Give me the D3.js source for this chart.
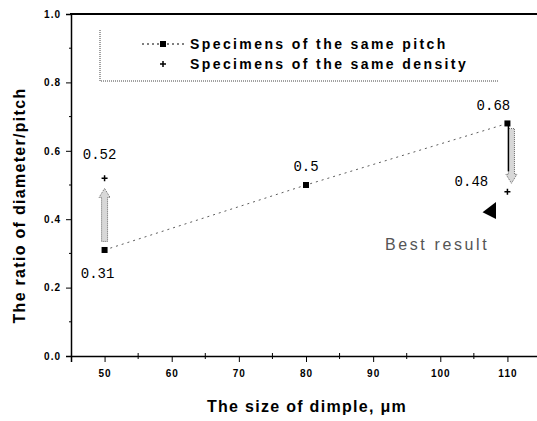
<!DOCTYPE html>
<html>
<head>
<meta charset="utf-8">
<script src="https://cdn.jsdelivr.net/npm/d3@7"></script>
<style>
  body { margin: 0; background: #fff; }
  text { font-family: "Liberation Sans", Arial, sans-serif; }
  .tick-label { font-size: 10px; font-weight: bold; letter-spacing: 1px; }
  .title { font-size: 16px; font-weight: bold; letter-spacing: 1.3px; }
  .legend-text { font-size: 14px; font-weight: bold; letter-spacing: 2.4px; }
  .value-label { font-family: "Liberation Mono", monospace; font-size: 14px; }
</style>
</head>
<body>
<div id="chart"></div>
<script>
// Data
const pitchSizes = [50, 80, 110];
const pitchRatios = [0.31, 0.5, 0.68];
const densitySizes = [50, 110];
const densityRatios = [0.52, 0.48];
const xTicks = [50, 60, 70, 80, 90, 100, 110];
const yTicks = [0.0, 0.2, 0.4, 0.6, 0.8, 1.0];
const arrowX = [50, 110.6];
const arrowFrom = [0.335, 0.665];
const arrowTo = [0.49, 0.505];

const width = 537;
const height = 421;

const svg = d3.select("#chart")
  .append("svg")
    .attr("width", width)
    .attr("height", height);

// Scales
const xScale = d3.scaleLinear()
  .domain([45, 115])
  .range([71, 541]);

const yScale = d3.scaleLinear()
  .domain([0, 1])
  .range([356, 14]);

// Frame (top line)
svg.append("line")
  .attr("x1", 70).attr("x2", width)
  .attr("y1", yScale(1)).attr("y2", yScale(1))
  .attr("stroke", "#000")
  .attr("stroke-width", 2);

// Left axis
const leftAxis = d3.axisLeft(yScale)
  .tickValues(yTicks)
  .tickFormat(d3.format(".1f"))
  .tickSize(5)
  .tickPadding(5);
const yAxis = svg.append("g")
  .attr("transform", `translate(${xScale(45)}, 0)`)
  .call(leftAxis);
yAxis.selectAll("text").attr("class", "tick-label");
yAxis.select(".domain").attr("stroke-width", 1.5);

// minor y ticks
svg.append("g")
  .selectAll("line")
  .data(d3.range(0.1, 1, 0.2))
  .join("line")
    .attr("x1", xScale(45)).attr("x2", xScale(45) - 2)
    .attr("y1", d => yScale(d)).attr("y2", d => yScale(d))
    .attr("stroke", "#000");

// Bottom axis
const bottomAxis = d3.axisBottom(xScale)
  .tickValues(xTicks)
  .tickSize(6)
  .tickPadding(8);
const xAxis = svg.append("g")
  .attr("transform", `translate(0, ${yScale(0)})`)
  .call(bottomAxis);
xAxis.selectAll("text").attr("class", "tick-label");
xAxis.select(".domain").attr("stroke-width", 1.5);

// minor x ticks
svg.append("g")
  .selectAll("line")
  .data([55, 65, 75, 85, 95, 105])
  .join("line")
    .attr("x1", d => xScale(d)).attr("x2", d => xScale(d))
    .attr("y1", yScale(0) - 3).attr("y2", yScale(0) + 3)
    .attr("stroke", "#000");

// Axis titles
svg.append("text")
  .attr("class", "title")
  .attr("transform", `translate(25, ${yScale(0.44)}) rotate(-90)`)
  .attr("text-anchor", "middle")
  .text("The ratio of diameter/pitch");

svg.append("text")
  .attr("class", "title")
  .attr("x", 307)
  .attr("y", 412)
  .attr("text-anchor", "middle")
  .text("The size of dimple, \u03bcm");

// Legend box (dotted left and bottom borders)
svg.append("path")
  .attr("d", `M100,30 V81 H498`)
  .attr("fill", "none")
  .attr("stroke", "#444")
  .attr("stroke-dasharray", "1,1");

const legend = svg.append("g");
legend.append("line")
  .attr("x1", 142).attr("x2", 184)
  .attr("y1", 44).attr("y2", 44)
  .attr("stroke", "#000")
  .attr("stroke-dasharray", "2,3");
legend.append("rect")
  .attr("x", 160).attr("y", 41)
  .attr("width", 6).attr("height", 6);
legend.append("path")
  .attr("d", "M160,64 h6 M163,61 v6")
  .attr("stroke", "#000")
  .attr("stroke-width", 1.5);
legend.append("text")
  .attr("class", "legend-text")
  .attr("x", 190).attr("y", 49)
  .text("Specimens of the same pitch");
legend.append("text")
  .attr("class", "legend-text")
  .attr("x", 190).attr("y", 69)
  .text("Specimens of the same density");

// Pitch line
const pitchData = pitchSizes.map((s, i) => ({size: s, ratio: pitchRatios[i]}));
const densityData = densitySizes.map((s, i) => ({size: s, ratio: densityRatios[i]}));

const lineGenerator = d3.line()
  .x(d => xScale(d.size))
  .y(d => yScale(d.ratio));

svg.append("path")
  .attr("d", lineGenerator(pitchData))
  .attr("fill", "none")
  .attr("stroke", "#333")
  .attr("stroke-width", 0.8)
  .attr("stroke-dasharray", "2,4");

// Hollow arrows
const arrowData = arrowX.map((x, i) => ({x: x, from: arrowFrom[i], to: arrowTo[i]}));
svg.append("g")
  .selectAll("path")
  .data(arrowData)
  .join("path")
    .attr("d", d => {
      const cx = xScale(d.x);
      const y0 = yScale(d.from);
      const y1 = yScale(d.to);
      const dir = y1 < y0 ? 1 : -1;
      const head = y1 + dir * 9;
      return `M${cx - 3},${y0} V${head} H${cx - 5.5} L${cx},${y1} L${cx + 5.5},${head} H${cx + 3} V${y0} Z`;
    })
    .attr("fill", "#d8d8d8")
    .attr("stroke", "#666")
    .attr("stroke-dasharray", "1,1");

// solid edge beside the right arrow
svg.append("line")
  .attr("x1", xScale(110) + 1).attr("x2", xScale(110) + 1)
  .attr("y1", yScale(0.68)).attr("y2", yScale(0.54))
  .attr("stroke", "#000")
  .attr("stroke-width", 1.5);

// Markers
svg.append("g")
  .selectAll("rect")
  .data(pitchData)
  .join("rect")
    .attr("x", d => xScale(d.size) - 3)
    .attr("y", d => yScale(d.ratio) - 3)
    .attr("width", 6)
    .attr("height", 6)
    .attr("fill", "#000");

svg.append("g")
  .selectAll("path")
  .data(densityData)
  .join("path")
    .attr("d", d => {
      const cx = xScale(d.size), cy = yScale(d.ratio);
      return `M${cx - 3},${cy} h6 M${cx},${cy - 3} v6`;
    })
    .attr("stroke", "#000")
    .attr("stroke-width", 1.5);

// Value labels
const labelDx = [-7, 0, -14];
const labelDy = [28, -14, -13];
svg.append("g")
  .selectAll("text")
  .data(pitchData)
  .join("text")
    .attr("class", "value-label")
    .attr("x", (d, i) => xScale(d.size) + labelDx[i])
    .attr("y", (d, i) => yScale(d.ratio) + labelDy[i])
    .attr("text-anchor", "middle")
    .text(d => d.ratio);

const densityDx = [-5, -36];
const densityDy = [-19, -6];
svg.append("g")
  .selectAll("text")
  .data(densityData)
  .join("text")
    .attr("class", "value-label")
    .attr("x", (d, i) => xScale(d.size) + densityDx[i])
    .attr("y", (d, i) => yScale(d.ratio) + densityDy[i])
    .attr("text-anchor", "middle")
    .text(d => d.ratio);

// Best result annotation
svg.append("path")
  .attr("d", `M${xScale(108.3)},${yScale(0.45)} v17 L${xScale(106.3)},${yScale(0.42)} Z`)
  .attr("fill", "#000");

svg.append("text")
  .attr("x", 385)
  .attr("y", 250)
  .attr("fill", "#555")
  .attr("font-size", 16)
  .attr("letter-spacing", 2.6)
  .text("Best result");
</script>
</body>
</html>
